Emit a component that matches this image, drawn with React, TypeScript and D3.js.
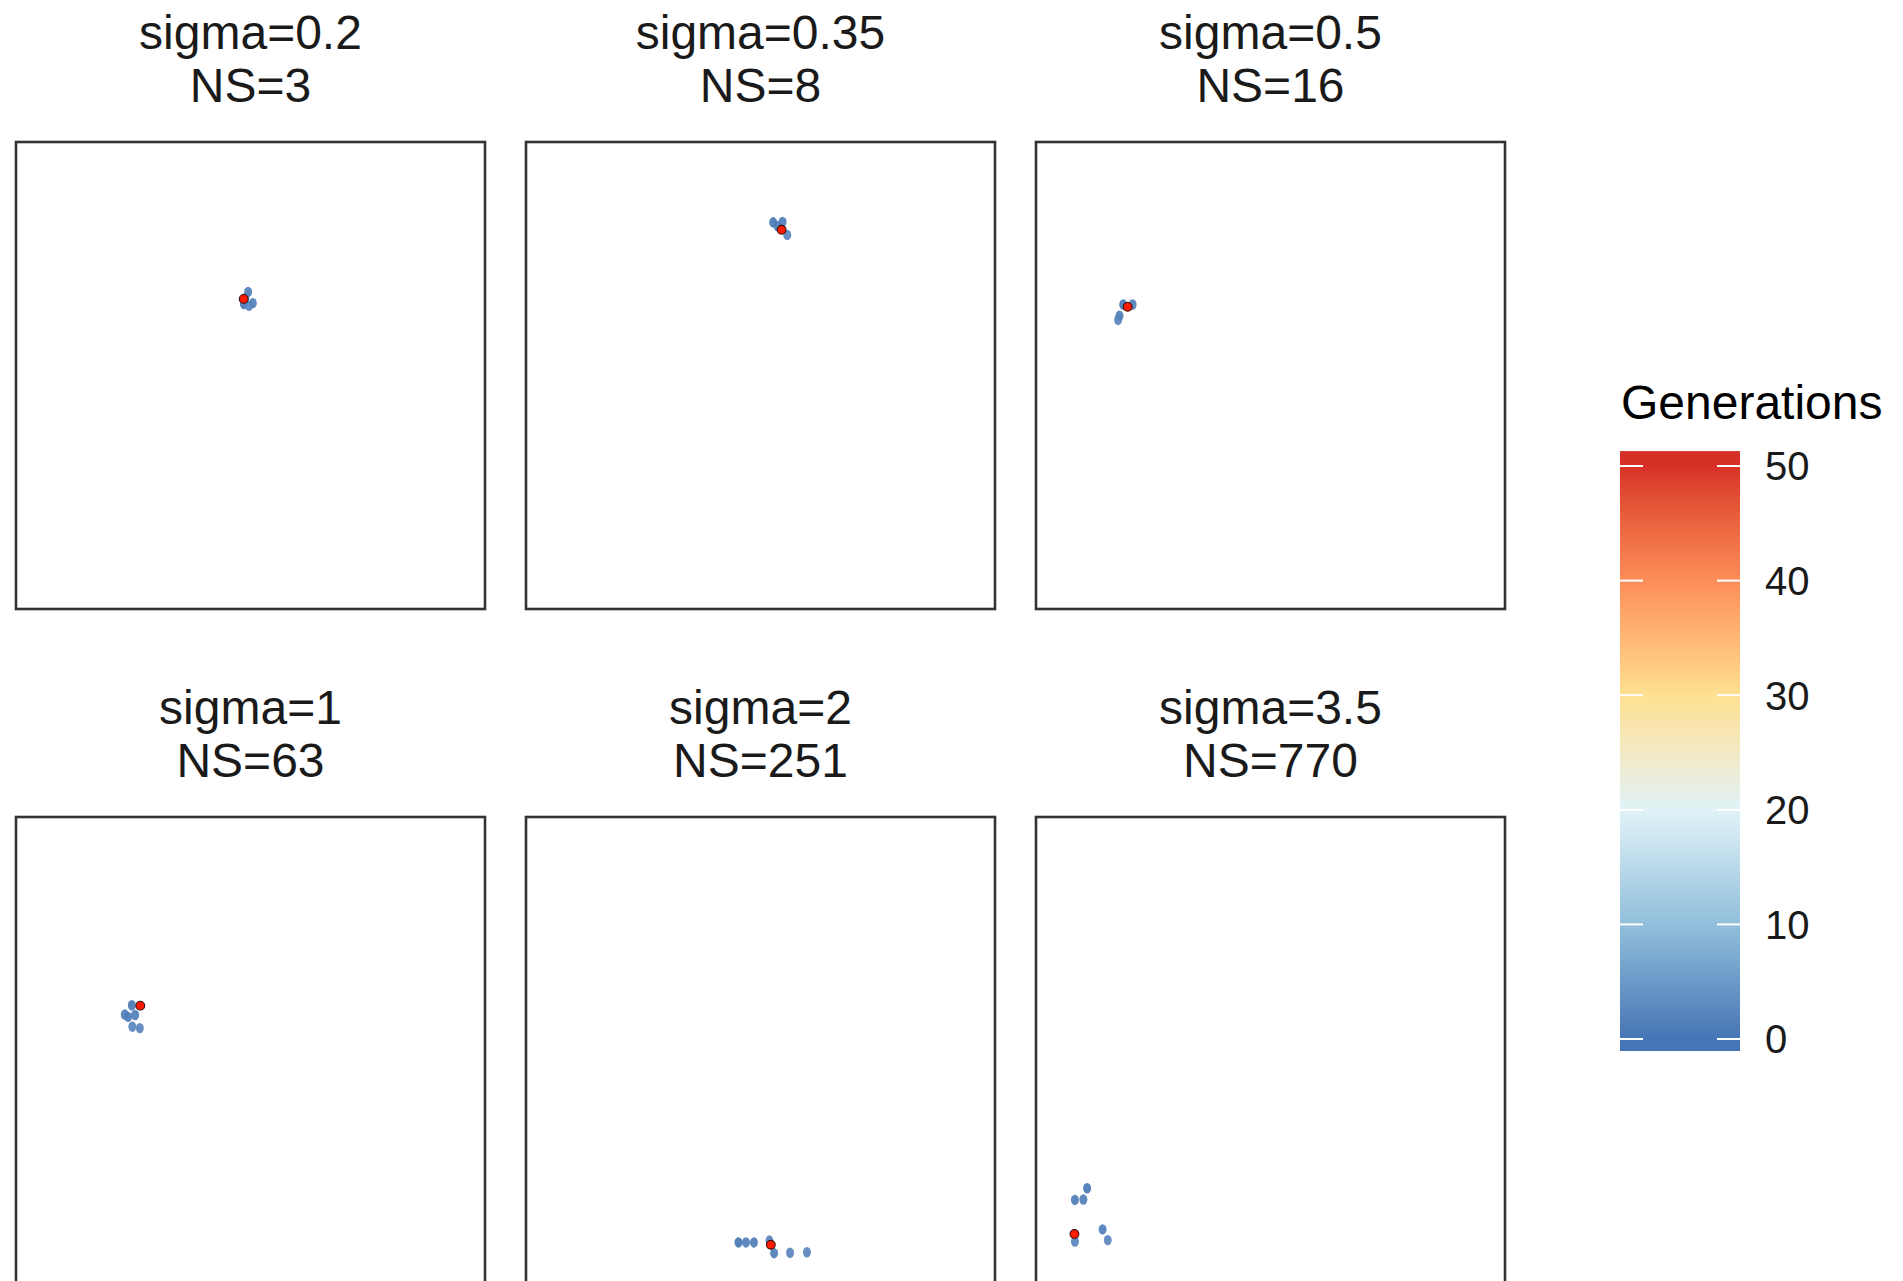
import React from "react";
import * as d3 from "d3";

// Facet labels
const sigmaLabels = ["0.2", "0.35", "0.5", "1", "2", "3.5"];
const nsLabels = [3, 8, 16, 63, 251, 770];

// Population positions per facet: [x, y, generation]
const trail1: [number, number, number][] = [
  [49.5, 67.9, 1], [48.6, 65.3, 0], [50.5, 65.5, 1], [49.7, 64.9, 2], [48.9, 66.6, 2],
];
const trail2: [number, number, number][] = [
  [52.7, 82.8, 0], [54.7, 82.9, 1], [55.7, 80.1, 2], [53.6, 82.0, 1],
];
const trail3: [number, number, number][] = [
  [18.6, 65.2, 0], [20.6, 65.2, 1], [17.8, 62.8, 1], [17.5, 61.9, 2],
];
const trail4: [number, number, number][] = [
  [24.7, 59.7, 0], [23.9, 57.2, 1], [25.4, 57.6, 1], [24.8, 55.1, 2], [26.4, 54.8, 2], [23.2, 57.7, 1],
];
const trail5: [number, number, number][] = [
  [45.3, 8.9, 0], [46.9, 8.9, 1], [48.6, 8.9, 1], [51.9, 9.3, 2], [52.9, 6.6, 1], [56.3, 6.7, 2], [59.9, 6.8, 2],
];
const trail6: [number, number, number][] = [
  [10.9, 20.5, 0], [10.1, 18.1, 1], [8.3, 18.0, 1], [8.3, 9.1, 2], [14.2, 11.7, 1], [15.3, 9.4, 2],
];
const trails = [trail1, trail2, trail3, trail4, trail5, trail6];

// Final (optimum) position per facet
const finalX = [48.55, 54.5, 19.55, 26.5, 52.2, 8.2];
const finalY = [66.4, 81.2, 64.7, 59.6, 8.4, 10.7];

// Colour legend
const legendTicks = [0, 10, 20, 30, 40, 50];
const legendLimits = [-1.05, 51.3];
const paletteColors = ["#4575B4", "#91BFDB", "#E0F3F8", "#FEE090", "#FC8D59", "#D73027"];

const W = 1903;
const H = 1281;
const FONT = "'Liberation Sans', Arial, Helvetica, sans-serif";

const colLefts = [16, 526, 1036];
const rowTops = [142, 817];
const PW = 469;
const PH = 467;

const colour = d3
  .scaleLinear<string>()
  .domain(d3.range(paletteColors.length).map((i) => (i / (paletteColors.length - 1)) * 50))
  .range(paletteColors)
  .interpolate(d3.interpolateLab)
  .clamp(true);

function Panel({ idx }: { idx: number }) {
  const left = colLefts[idx % 3];
  const top = rowTops[Math.floor(idx / 3)];
  const x = d3.scaleLinear().domain([0, 100]).range([left, left + PW]);
  const y = d3.scaleLinear().domain([0, 100]).range([top + PH, top]);
  const cx = left + PW / 2;
  return (
    <g>
      <text x={cx} y={top - 93.5} textAnchor="middle" fontSize={48} fill="#1a1a1a" fontFamily={FONT}>
        {`sigma=${sigmaLabels[idx]}`}
      </text>
      <text x={cx} y={top - 40} textAnchor="middle" fontSize={48} fill="#1a1a1a" fontFamily={FONT}>
        {`NS=${nsLabels[idx]}`}
      </text>
      <rect x={left} y={top} width={PW} height={PH} fill="#fff" stroke="#333" strokeWidth={2.6} />
      {trails[idx].map(([px, py, g], i) => (
        <ellipse key={i} cx={x(px)} cy={y(py)} rx={4} ry={5.2} fill={colour(g)} fillOpacity={0.9} />
      ))}
      <circle cx={x(finalX[idx])} cy={y(finalY[idx])} r={4.4} fill="#ff1a00" stroke="#3a1010" strokeWidth={1.1} />
    </g>
  );
}

function Legend() {
  const barX = 1620;
  const barW = 120;
  const ly = d3.scaleLinear().domain([0, 50]).range([1039, 466]);
  const yTop = ly(legendLimits[1]);
  const yBot = ly(legendLimits[0]);
  const stops = d3.range(0, 101).map((i) => {
    const v = legendLimits[1] - (i / 100) * (legendLimits[1] - legendLimits[0]);
    return { offset: `${i}%`, color: colour(v) };
  });
  return (
    <g>
      <defs>
        <linearGradient id="genGrad" x1="0" y1="0" x2="0" y2="1">
          {stops.map((s, i) => (
            <stop key={i} offset={s.offset} stopColor={s.color} />
          ))}
        </linearGradient>
      </defs>
      <text x={barX + 1} y={419} fontSize={48} fill="#000" fontFamily={FONT}>
        Generations
      </text>
      <rect x={barX} y={yTop} width={barW} height={yBot - yTop} fill="url(#genGrad)" />
      {legendTicks.map((t) => (
        <g key={t}>
          <line x1={barX} x2={barX + 23} y1={ly(t)} y2={ly(t)} stroke="#fff" strokeWidth={2} />
          <line x1={barX + barW - 23} x2={barX + barW} y1={ly(t)} y2={ly(t)} stroke="#fff" strokeWidth={2} />
          <text x={1765} y={ly(t)} dy="0.36em" fontSize={40} fill="#1a1a1a" fontFamily={FONT}>
            {t}
          </text>
        </g>
      ))}
    </g>
  );
}

export default function App() {
  return (
    <svg
      width={W}
      height={H}
      viewBox={`0 0 ${W} ${H}`}
      style={{ position: "absolute", left: 0, top: 0, display: "block", background: "#fff" }}
    >
      <rect x={0} y={0} width={W} height={H} fill="#fff" />
      {sigmaLabels.map((_, i) => (
        <Panel key={i} idx={i} />
      ))}
      <Legend />
    </svg>
  );
}
